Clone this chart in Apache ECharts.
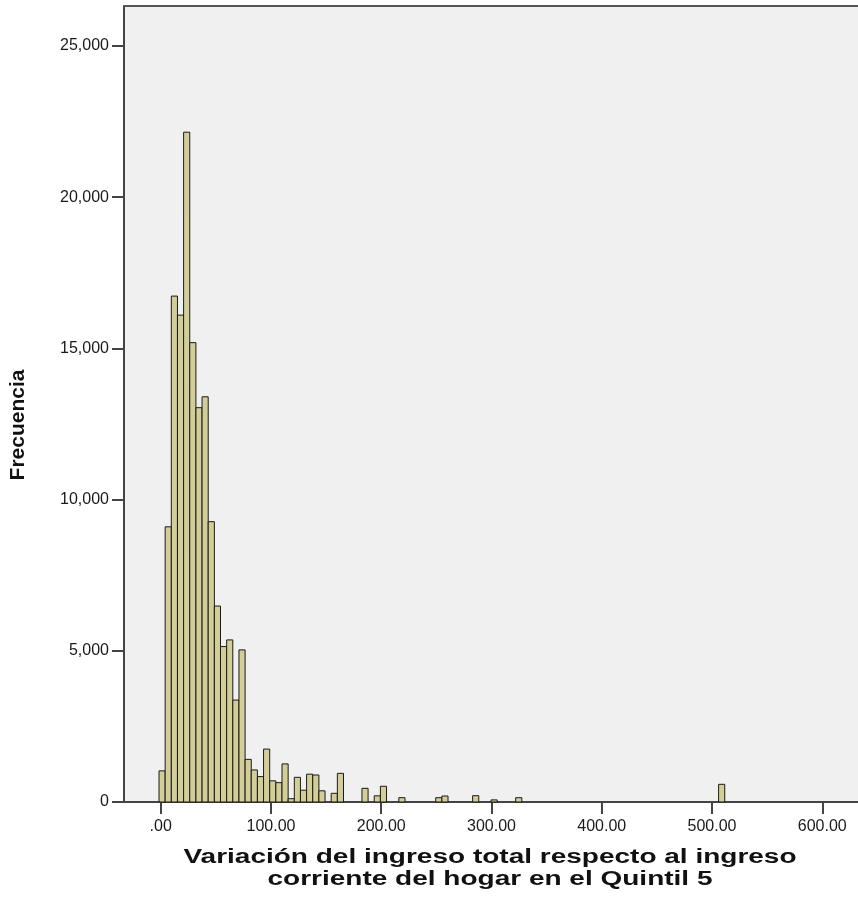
<!DOCTYPE html>
<html>
<head>
<meta charset="utf-8">
<script src="https://cdn.jsdelivr.net/npm/echarts@6/dist/echarts.min.js"></script>
<style>
html,body{margin:0;padding:0;background:#fff;}
#chart{width:858px;height:915px;}
</style>
</head>
<body>
<div id="chart"></div>
<script>
// Histogram data
var binStart = -1.54;      // lower edge of first bin
var binWidth = 5.577;      // width of each bin
var counts = [
  1030, 9100, 16730, 16100, 22150, 15190, 13040, 13400, 9270, 6480,
  5140, 5360, 3370, 5030, 1410, 1060, 840, 1750, 700, 640,
  1260, 110, 816, 390, 920, 893, 370, 0, 287, 948,
  0, 0, 0, 452, 0, 205, 520, 0, 0, 143,
  0, 0, 0, 0, 0, 143, 198, 0, 0, 0,
  0, 209, 0, 0, 70, 0, 0, 0, 143, 0,
  0, 0, 0, 0, 0, 0, 0, 0, 0, 0,
  0, 0, 0, 0, 0, 0, 0, 0, 0, 0,
  0, 0, 0, 0, 0, 0, 0, 0, 0, 0,
  0, 585
];
var xTicks = [0, 100, 200, 300, 400, 500, 600];
var yTicks = [0, 5000, 10000, 15000, 20000, 25000];
var xTitle = 'Variación del ingreso total respecto al ingreso\ncorriente del hogar en el Quintil 5';
var yTitle = 'Frecuencia';

var barData = [];
counts.forEach(function (c, i) {
  if (c > 0) barData.push([binStart + i * binWidth, binStart + (i + 1) * binWidth, c]);
});

function fmtX(v) {
  var s = v.toFixed(2);
  return s.indexOf('0.') === 0 ? s.slice(1) : s;
}
function fmtY(v) {
  return v.toLocaleString('en-US');
}

var chart = echarts.init(document.getElementById('chart'), null, {renderer: 'canvas'});
var FONT = '"Liberation Sans", Arial, sans-serif';
chart.setOption({
  animation: false,
  backgroundColor: '#ffffff',
  grid: {left: 124, right: 0, top: 6, bottom: 113, show: true, backgroundColor: '#f0f0f0', borderWidth: 0},
  xAxis: {
    type: 'value', min: -33.3, max: 632.4,
    axisLine: {show: true, onZero: false, lineStyle: {color: '#444', width: 2}},
    axisTick: {show: true, length: 12, customValues: xTicks, lineStyle: {color: '#444', width: 2}},
    axisLabel: {customValues: xTicks, formatter: fmtX, color: '#1a1a1a', fontSize: 16, fontFamily: FONT, margin: 17},
    splitLine: {show: false}
  },
  yAxis: {
    type: 'value', min: 0, max: 26323,
    axisLine: {show: true, onZero: false, lineStyle: {color: '#444', width: 2}},
    axisTick: {show: true, length: 12, customValues: yTicks, lineStyle: {color: '#444', width: 2}},
    axisLabel: {customValues: yTicks, formatter: fmtY, color: '#1a1a1a', fontSize: 16, fontFamily: FONT, margin: 15},
    splitLine: {show: false}
  },
  graphic: [
    {type: 'line', shape: {x1: 124, y1: 6, x2: 858, y2: 6}, style: {stroke: '#555', lineWidth: 2}, z: 10},
    {type: 'text', x: 490, y: 868, scaleX: 1.4, style: {text: xTitle, font: 'bold 20px ' + FONT, fill: '#111', align: 'center', verticalAlign: 'middle', lineHeight: 22}},
    {type: 'text', x: 18, y: 425, rotation: Math.PI / 2, style: {text: yTitle, font: 'bold 21px ' + FONT, fill: '#111', align: 'center', verticalAlign: 'middle'}}
  ],
  series: [{
    type: 'custom',
    data: barData,
    encode: {x: [0, 1], y: 2},
    renderItem: function (params, api) {
      var p0 = api.coord([api.value(0), api.value(2)]);
      var p1 = api.coord([api.value(1), 0]);
      return {
        type: 'rect',
        shape: {x: p0[0], y: p0[1], width: p1[0] - p0[0], height: p1[1] - p0[1]},
        style: {fill: '#d3ce97', stroke: '#1a1a1a', lineWidth: 1}
      };
    }
  }]
});
</script>
</body>
</html>
